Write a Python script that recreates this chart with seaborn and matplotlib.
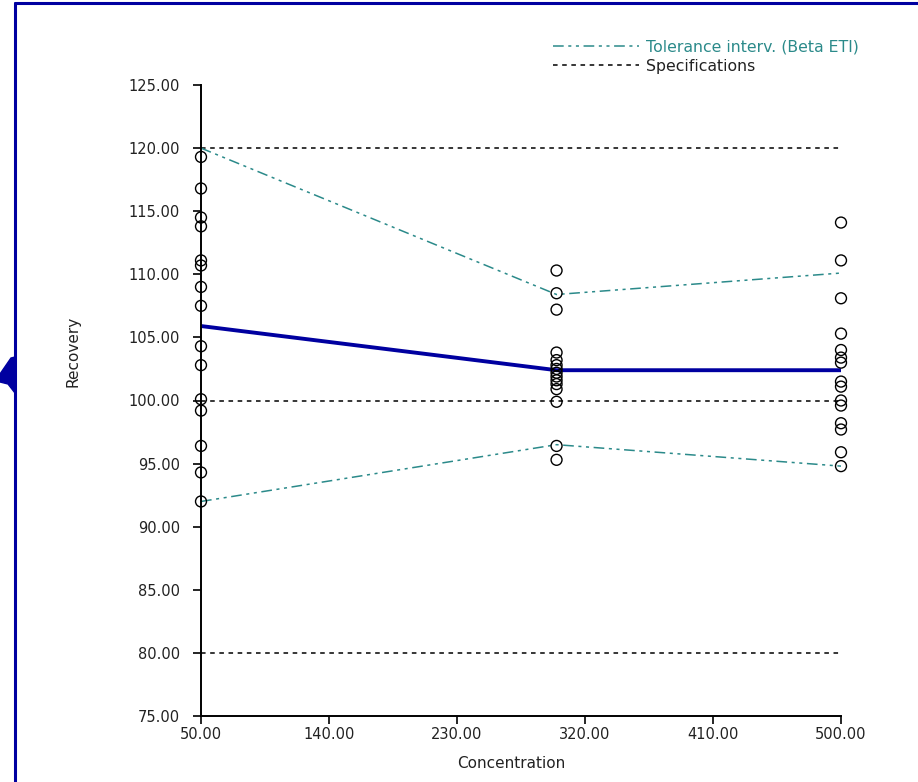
import numpy as np
import pandas as pd
import matplotlib
matplotlib.use("Agg")
import matplotlib.pyplot as plt
import seaborn as sns
from matplotlib.lines import Line2D
from matplotlib.patches import Polygon

# ---- data ----
conc_levels = [50, 300, 500]
rec_50 = [119.3, 116.8, 114.5, 113.8, 111.1, 110.7, 109.0, 107.5, 104.3, 102.8,
          100.1, 99.2, 96.4, 94.3, 92.0]
rec_300 = [110.3, 108.5, 107.2, 103.8, 103.2, 102.8, 102.5, 102.2, 101.9, 101.6,
           101.3, 100.9, 99.9, 96.4, 95.3]
rec_500 = [114.1, 111.1, 108.1, 105.3, 104.0, 103.4, 103.0, 101.5, 101.1, 100.0,
           99.6, 98.2, 97.7, 95.9, 94.8]
mean_rec = [105.9, 102.4, 102.4]
tol_upper = [120.0, 108.4, 110.1]
tol_lower = [92.0, 96.5, 94.8]
spec_limits = [80, 100, 120]
x_ticks = [50, 140, 230, 320, 410, 500]
y_ticks = [75, 80, 85, 90, 95, 100, 105, 110, 115, 120, 125]

pts = pd.DataFrame({
    "Concentration": [50] * len(rec_50) + [300] * len(rec_300) + [500] * len(rec_500),
    "Recovery": rec_50 + rec_300 + rec_500,
})
lines = pd.DataFrame({"Concentration": conc_levels, "mean": mean_rec,
                      "up": tol_upper, "lo": tol_lower})

sns.set_style("white")
plt.rcParams["font.family"] = ["DejaVu Sans"]

W, H = 918, 782
fig = plt.figure(figsize=(W / 100, H / 100), dpi=100)
ax = fig.add_axes([201 / W, 1 - 716 / H, 640 / W, 631 / H])

teal = "#2b8a8a"
navy = "#0000a0"
txt = "#222222"

for s in spec_limits:
    ax.plot([50, 500], [s, s], color="black", lw=1.1, dashes=(3, 3))

sns.lineplot(data=lines, x="Concentration", y="up", ax=ax, color=teal, lw=1.1,
             legend=False).lines[-1].set_dashes((7, 3, 2, 3, 2, 3))
sns.lineplot(data=lines, x="Concentration", y="lo", ax=ax, color=teal, lw=1.1,
             legend=False).lines[-1].set_dashes((7, 3, 2, 3, 2, 3))
sns.lineplot(data=lines, x="Concentration", y="mean", ax=ax, color=navy, lw=2.8,
             legend=False)
sns.scatterplot(data=pts, x="Concentration", y="Recovery", ax=ax, marker="o",
                facecolor="none", edgecolor="black", linewidth=1.0, s=62,
                legend=False, zorder=5, clip_on=False)

ax.set_xlim(50, 500)
ax.set_ylim(75, 125)
ax.set_xticks(x_ticks)
ax.set_xticklabels([f"{v:.2f}" for v in x_ticks], fontsize=10.5, color=txt)
ax.set_yticks(y_ticks)
ax.set_yticklabels([f"{v:.2f}" for v in y_ticks], fontsize=10.5, color=txt)
ax.tick_params(axis="y", direction="out", length=6, width=1.2, color="black",
               left=True, pad=9)
ax.tick_params(axis="x", direction="out", length=6, width=1.2, color="black",
               bottom=True, pad=2)
for side in ["top", "right"]:
    ax.spines[side].set_visible(False)
for side in ["left", "bottom"]:
    ax.spines[side].set_color("black")
    ax.spines[side].set_linewidth(1.4)
ax.set_xlabel("Concentration", fontsize=11, color=txt)
ax.set_ylabel("Recovery", fontsize=11, color=txt)
ax.xaxis.set_label_coords(0.484, -0.063)
ax.yaxis.set_label_coords(-0.189, 0.578)

handles = [Line2D([0], [0], color=teal, lw=1.1, dashes=(7, 3, 2, 3, 2, 3)),
           Line2D([0], [0], color="black", lw=1.1, dashes=(3, 3))]
leg = fig.legend(handles, ["Tolerance interv. (Beta ETI)", "Specifications"],
                 loc="upper left", bbox_to_anchor=(553 / W, 1 - 39 / H),
                 frameon=False, fontsize=11.3, handlelength=5.5, handletextpad=0.45,
                 labelspacing=0.3, borderpad=0, borderaxespad=0)
leg.get_texts()[0].set_color(teal)
leg.get_texts()[1].set_color(txt)

# frame decoration
fig.add_artist(Line2D([15 / W, 1], [1 - 3 / H, 1 - 3 / H], color=navy, lw=2.2,
                      transform=fig.transFigure))
fig.add_artist(Line2D([15 / W, 15 / W], [0, 1 - 3 / H], color=navy, lw=2.2,
                      transform=fig.transFigure))
poly = [(0, 374), (11, 358), (15, 357), (15, 393), (8, 384), (0, 382)]
fig.add_artist(Polygon([(x / W, 1 - y / H) for x, y in poly], closed=True,
                       color=navy, transform=fig.transFigure))

fig.savefig("out.png", dpi=100)
